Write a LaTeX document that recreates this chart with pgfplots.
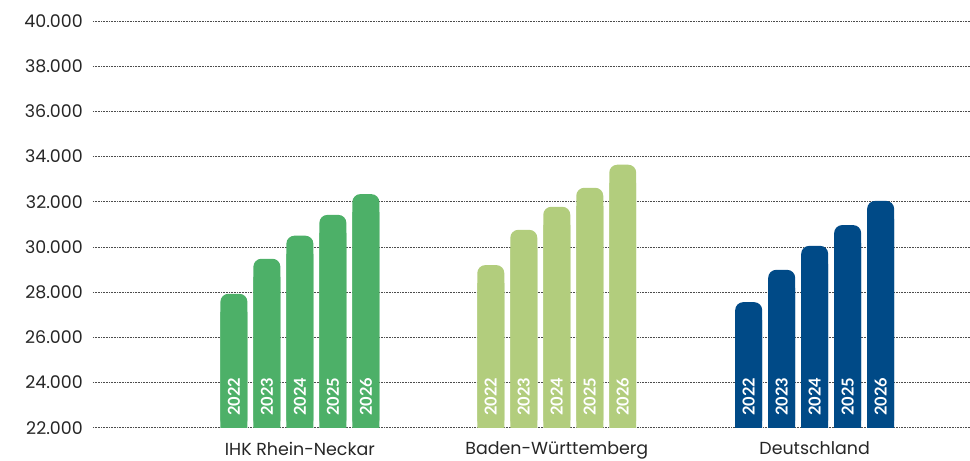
\documentclass[border=0pt]{standalone}
\usepackage{pgfplots}
\usepackage{pgfplotstable}
\pgfplotsset{compat=1.18}
\usepackage{fontspec}
\setmainfont{Poppins}
\newfontfamily\yearfont{Lato}
\definecolor{ihk}{RGB}{77,176,104}
\definecolor{bw}{RGB}{178,205,125}
\definecolor{de}{RGB}{0,74,135}

\pgfplotstableread{
x y
234 27930
267 29480
300 30500
333 31420
366 32340
}\ihkdata
\pgfplotstableread{
x y
491 29200
524 30760
557 31780
590 32620
623 33640
}\bwdata
\pgfplotstableread{
x y
749 27560
782 28990
815 30050
848 30970
881 32040
}\dedata

\begin{document}
\begin{tikzpicture}
\begin{axis}[
  scale only axis, width=877bp, height=407bp,
  xmin=93, xmax=970, ymin=22000, ymax=40000,
  ytick={22000,24000,...,40000},
  xtick={300,557,815},
  xticklabels={IHK Rhein-Neckar, Baden-Württemberg, Deutschland},
  axis line style={draw=none},
  major tick length=0pt,
  ymajorgrids,
  grid style={draw=black!70, line width=0.8bp, dash pattern=on 0.8bp off 0.8bp},
  scaled y ticks=false,
  /pgf/number format/1000 sep={.},
  /pgf/number format/assume math mode=true,
  ticklabel style={font=\fontsize{17.5}{20}\selectfont, text=black!85},
  yticklabel style={anchor=east, inner sep=0pt, xshift=-10bp},
  xticklabel style={anchor=north, inner sep=0pt, yshift=-14bp},
  bars/.style={ybar, bar width=27bp, bar shift=0pt, draw=none},
]
% rounded-top bars
\addplot[bars, fill=ihk, rounded corners=8bp] table[x=x,y=y] {\ihkdata};
\addplot[bars, fill=bw,  rounded corners=8bp] table[x=x,y=y] {\bwdata};
\addplot[bars, fill=de,  rounded corners=8bp] table[x=x,y=y] {\dedata};
% square lower parts (flat bar bottoms)
\addplot[bars, fill=ihk] table[x=x,y expr=\thisrow{y}-800] {\ihkdata};
\addplot[bars, fill=bw]  table[x=x,y expr=\thisrow{y}-800] {\bwdata};
\addplot[bars, fill=de]  table[x=x,y expr=\thisrow{y}-800] {\dedata};
\addplot[draw=none, mark=none, nodes near coords, point meta=explicit symbolic,
  nodes near coords style={rotate=90, anchor=west, inner sep=0pt, text=white,
    font=\yearfont\bfseries\fontsize{16.5}{16}\selectfont}]
  coordinates {
   (234,22530)[2022] (267,22530)[2023] (300,22530)[2024] (333,22530)[2025] (366,22530)[2026]
   (491,22530)[2022] (524,22530)[2023] (557,22530)[2024] (590,22530)[2025] (623,22530)[2026]
   (749,22530)[2022] (782,22530)[2023] (815,22530)[2024] (848,22530)[2025] (881,22530)[2026]
  };
\end{axis}
\path ([xshift=-93bp,yshift=-33bp]current axis.south west) rectangle ([yshift=21bp]current axis.north east);
\end{tikzpicture}
\end{document}
